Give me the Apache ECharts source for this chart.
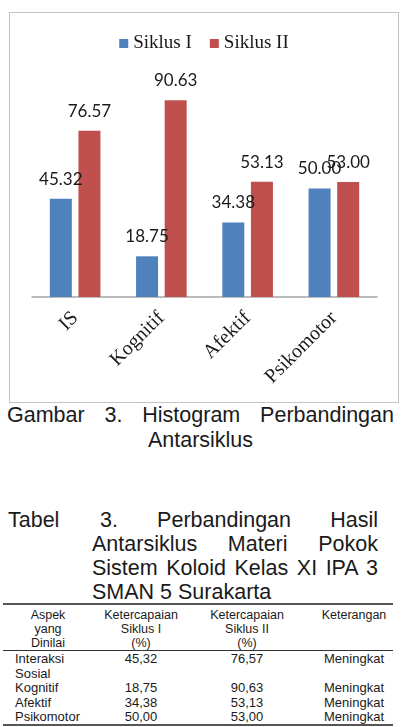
<!DOCTYPE html>
<html>
<head>
<meta charset="utf-8">
<script src="https://cdn.jsdelivr.net/npm/echarts@6/dist/echarts.min.js"></script>
<style>
html, body { margin: 0; padding: 0; background: #fff; }
body {
  width: 407px; height: 727px; position: relative; overflow: hidden;
  font-family: "Liberation Sans", Arial, sans-serif; color: #1a1a1a;
}
#chart {
  position: absolute; left: 9px; top: 12px; width: 388px; height: 389px;
  border: 1px solid #c4c4c4;
}
.line { position: absolute; white-space: nowrap; }
.big { font-size: 21.5px; line-height: 24px; }
.just { white-space: normal; text-align: justify; text-align-last: justify; }
.rule { position: absolute; left: 3px; width: 390px; background: #555; }
.cell { position: absolute; white-space: nowrap; }
.hd { font-size: 12.5px; line-height: 14px; transform: translateX(-50%); text-align: center; }
.dt { font-size: 13px; line-height: 14.5px; }
.mid { transform: translateX(-50%); }
</style>
</head>
<body>
<div id="chart"></div>

<!-- keterangan gambar -->
<div class="line big just" style="left:7px;top:403px;width:387px;">Gambar 3. Histogram Perbandingan</div>
<div class="line big" style="left:7px;top:428px;width:387px;text-align:center;">Antarsiklus</div>

<!-- judul tabel -->
<div class="line big" style="left:8px;top:508px;">Tabel</div>
<div class="line big just" style="left:100px;top:508px;width:278px;">3. Perbandingan Hasil</div>
<div class="line big just" style="left:92px;top:532px;width:286px;">Antarsiklus Materi Pokok</div>
<div class="line big just" style="left:92px;top:556px;width:286px;">Sistem Koloid Kelas XI IPA 3</div>
<div class="line big" style="left:92px;top:580px;">SMAN 5 Surakarta</div>

<div id="tabel"></div>

<script>
var categories = ["IS", "Kognitif", "Afektif", "Psikomotor"];
var siklus1 = [45.32, 18.75, 34.38, 50.00];
var siklus2 = [76.57, 90.63, 53.13, 53.00];
var aspek = [["Interaksi", "Sosial"], ["Kognitif"], ["Afektif"], ["Psikomotor"]];
var keterangan = ["Meningkat", "Meningkat", "Meningkat", "Meningkat"];
var headers = [
  ["Aspek", "yang", "Dinilai"],
  ["Ketercapaian", "Siklus I", "(%)"],
  ["Ketercapaian", "Siklus II", "(%)"],
  ["Keterangan"]
];

// grafik
var chart = echarts.init(document.getElementById("chart"));
var labelStyle = {
  show: true,
  position: "top",
  distance: 11,
  fontFamily: "Lato",
  fontSize: 17,
  color: "#1a1a1a",
  formatter: function (p) { return p.value.toFixed(2); }
};
chart.setOption({
  animation: false,
  legend: {
    top: 16,
    left: "center",
    icon: "rect",
    itemWidth: 9,
    itemHeight: 9,
    itemGap: 18,
    textStyle: { fontFamily: "Liberation Serif", fontSize: 19, color: "#1a1a1a" },
    data: ["Siklus I", "Siklus II"]
  },
  grid: { left: 22, right: 21, top: 67, bottom: 105 },
  xAxis: {
    type: "category",
    data: categories,
    axisTick: { show: false },
    axisLine: { lineStyle: { color: "#a6a6a6", width: 1.5 } },
    axisLabel: {
      interval: 0,
      rotate: 45,
      margin: 18,
      verticalAlign: "middle",
      padding: [12, 0, 0, 0],
      fontFamily: "Liberation Serif",
      fontSize: 20,
      color: "#1a1a1a"
    }
  },
  yAxis: { type: "value", min: 0, max: 100, show: false },
  series: [
    {
      name: "Siklus I",
      type: "bar",
      barWidth: 22,
      barGap: "30%",
      itemStyle: { color: "#4f81bd" },
      label: labelStyle,
      data: siklus1
    },
    {
      name: "Siklus II",
      type: "bar",
      barWidth: 22,
      barGap: "30%",
      itemStyle: { color: "#c0504d" },
      label: labelStyle,
      data: siklus2
    }
  ]
});

// tabel
function fmt(v) { return v.toFixed(2).replace(".", ","); }
var tabel = document.getElementById("tabel");
var html = "";
html += '<div class="rule" style="top:603px;height:2px;"></div>';
html += '<div class="rule" style="top:650px;height:1px;background:#333;"></div>';
html += '<div class="rule" style="top:724px;height:2px;"></div>';
var colX = [48, 141, 247, 354];
headers.forEach(function (h, i) {
  h.forEach(function (t, j) {
    html += '<div class="cell hd" style="left:' + colX[i] + 'px;top:' + (608 + j * 14) + 'px;">' + t + '</div>';
  });
});
var lineTop = 652;
aspek.forEach(function (a, i) {
  a.forEach(function (t, j) {
    html += '<div class="cell dt" style="left:15px;top:' + (lineTop + j * 14.5) + 'px;">' + t + '</div>';
  });
  html += '<div class="cell dt mid" style="left:' + colX[1] + 'px;top:' + lineTop + 'px;">' + fmt(siklus1[i]) + '</div>';
  html += '<div class="cell dt mid" style="left:' + colX[2] + 'px;top:' + lineTop + 'px;">' + fmt(siklus2[i]) + '</div>';
  html += '<div class="cell dt mid" style="left:' + colX[3] + 'px;top:' + lineTop + 'px;">' + keterangan[i] + '</div>';
  lineTop += a.length * 14.5;
});
tabel.innerHTML = html;
</script>
</body>
</html>
